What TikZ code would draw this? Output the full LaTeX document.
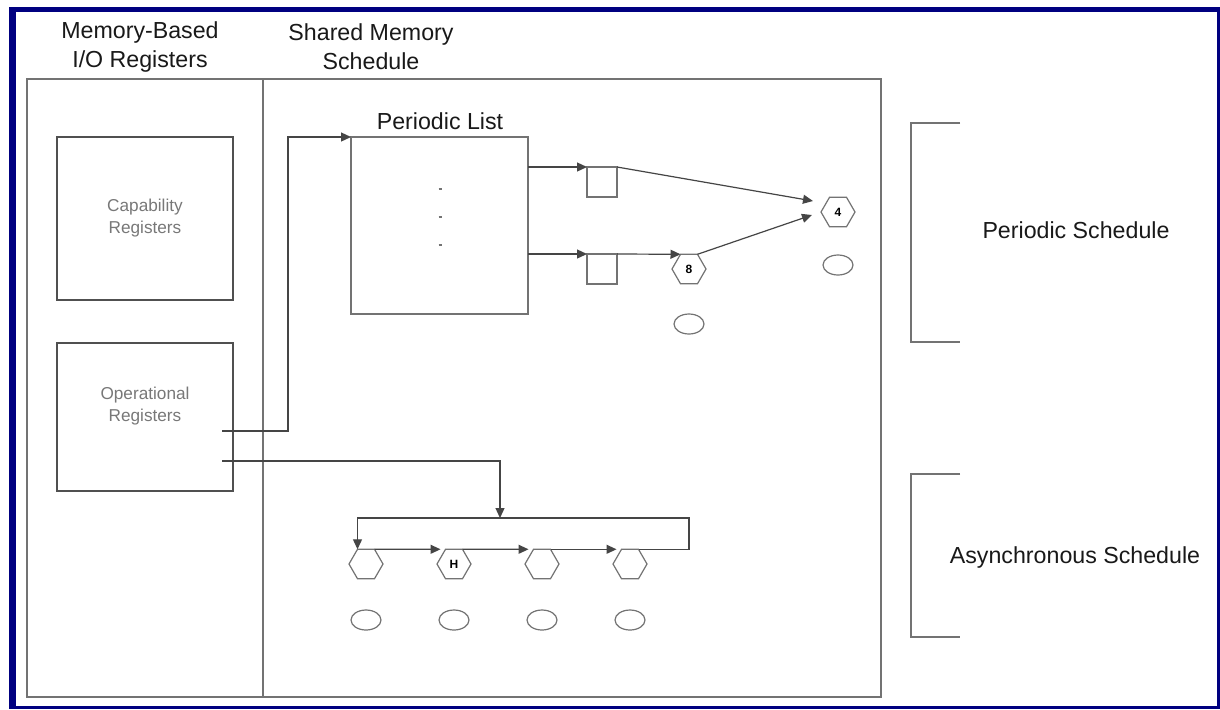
\documentclass[tikz,border=0pt]{standalone}
\usepackage{fontspec}
\setmainfont{Liberation Sans}
\usetikzlibrary{shapes.geometric,arrows.meta,calc,positioning}
\definecolor{framenavy}{RGB}{0,0,128}
\definecolor{linegray}{RGB}{115,115,115}
\definecolor{txtgray}{RGB}{120,120,120}
\definecolor{txtdark}{RGB}{25,25,25}

\begin{document}
\begin{tikzpicture}[x=0.5pt,y=-0.5pt,
    line width=0.6pt, draw=linegray,
    arr/.style={-{Triangle[length=5pt,width=4.5pt]}, draw=linegray!60!black},
    head/.style={align=center, text=txtdark, font=\fontsize{11.6}{14.5}\selectfont},
    regbox/.style={draw=linegray!70!black, rectangle, minimum width=88pt, align=center,
      text=txtgray, font=\fontsize{8.6}{11}\selectfont},
    hexa/.style={draw=linegray, regular polygon, regular polygon sides=6, minimum size=17pt,
      inner sep=0pt, outer sep=0pt, font=\fontsize{6}{7}\selectfont\bfseries},
    sqbox/.style={draw=linegray, rectangle, minimum size=15pt, inner sep=0pt, outer sep=0pt},
    oval/.style={draw=linegray, ellipse, minimum width=15pt, minimum height=10pt, inner sep=0pt}]
  \useasboundingbox (0,0) rectangle (1220,709);
  % picture frame
  \fill[framenavy] (9,7) rectangle (1220,709);
  \fill[white] (16,12) rectangle (1217,706);

  % columns
  \draw (27,79) rectangle (881,697);
  \draw (263,79) -- (263,697);
  \node[head] (memhead) at (140,47) {Memory-Based\\I/O Registers};
  \node[head] (shmhead) at (371,47) {Shared Memory\\Schedule};

  % registers
  \node[regbox, minimum height=81.5pt] (cap) at (145,218.5) {Capability\\Registers};
  \node[regbox, minimum height=74pt] (op) at (145,417) {};
  \node[regbox, draw=none] (optxt) at (145,406) {Operational\\Registers};
  \coordinate (o1) at (222,431);
  \coordinate (o2) at (222,461);

  % periodic list
  \node[draw=linegray, rectangle, minimum size=88.5pt, inner sep=0pt, outer sep=0pt] (plist) at (439.5,225.5) {};
  \node[head] (plabel) at (440,121) {Periodic List};
  \foreach \y in {189,217,245}
    \draw (438.5,\y) -- (441.5,\y);

  \node[sqbox] (sq1) at (602,182) {};
  \node[sqbox] (sq2) at (602,269) {};
  \node[hexa] (heig) at (689,269) {8};
  \node[hexa] (hfour) at (838,212) {4};
  \node[oval] (e8) at (689,324) {};
  \node[oval] (e4) at (838,265) {};

  \draw[arr] (sq1.north west -| plist.east) -- (sq1.north west);
  \draw[arr] (sq2.north west -| plist.east) -- (sq2.north west);
  \draw[arr] (sq2.north east) -- (heig.120);
  \draw[arr] (sq1.north east) -- ($(hfour.west)+(-8,-11)$);
  \draw[arr] (heig.60) -- ($(hfour.west)+(-9,3)$);
  \draw[arr] (o1) -- ++(66,0) |- (plist.north west);

  % asynchronous list
  \foreach \x/\n/\t in {366/a1/,454/a2/H,542/a3/,630/a4/}{
    \node[hexa] (\n) at (\x,564) {\t};
    \node[oval] (e\n) at (\x,620) {};
  }
  \coordinate (lin) at (500,518);
  \coordinate (lr) at (689,518);
  \draw[arr] (o2) -| (lin);
  \draw[arr] (a1.60) -- ($(a2.120)+(-5,0)$);
  \draw[arr] (a2.60) -- ($(a3.120)+(-5,0)$);
  \draw[arr] (a3.60) -- ($(a4.120)+(-5,0)$);
  \draw[arr] (a4.60) -| (lr) -- (a1.120 |- lr) -- (a1.120);

  % schedule brackets
  \draw (960,123) -- (911,123) -- (911,342) -- (960,342);
  \draw (960,474) -- (911,474) -- (911,637) -- (960,637);
  \node[head] (psched) at (1076,230) {Periodic Schedule};
  \node[head] (asched) at (1075,557) {Asynchronous Schedule};
\end{tikzpicture}
\end{document}
